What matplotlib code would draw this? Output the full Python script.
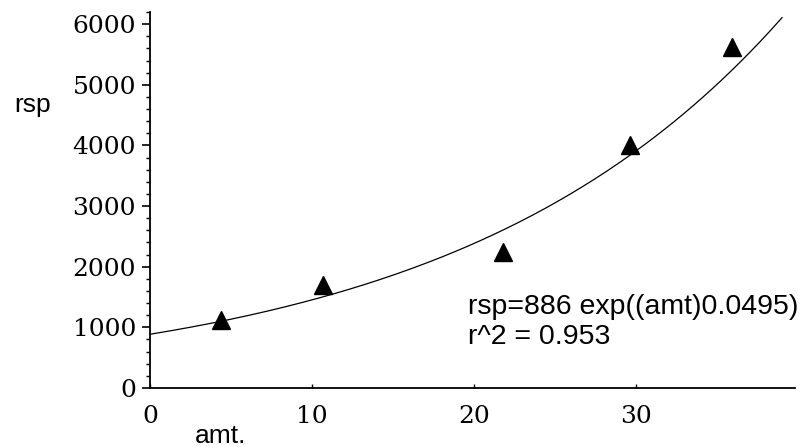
import matplotlib
matplotlib.use("Agg")
import matplotlib.pyplot as plt
import matplotlib.ticker as ticker
import numpy as np

# measured points
amt = [4.4, 10.7, 21.8, 29.6, 35.9]
rsp = [1120, 1700, 2250, 4000, 5620]

# fitted model rsp = a * exp(b * amt), coefficients as printed on the chart
fit_a = 886
fit_b = 0.0495
fit_r2 = 0.953
fit_xmax = 39

fig = plt.figure(figsize=(8.04, 4.47), dpi=100)
ax = fig.add_axes([150 / 804, 59 / 447, 645 / 804, 376 / 447])

xs = np.linspace(0, fit_xmax, 200)
ax.plot(xs, fit_a * np.exp(fit_b * xs), color="k", linewidth=0.9)
ax.plot(amt, rsp, linestyle="none", marker="^", markersize=13, color="k")

ax.set_xlim(0, 39.8)
ax.set_ylim(0, 6200)

ax.spines["top"].set_visible(False)
ax.spines["right"].set_visible(False)
ax.spines["left"].set_linewidth(1.3)
ax.spines["bottom"].set_linewidth(1.3)

ax.xaxis.set_major_locator(ticker.MultipleLocator(10))
ax.yaxis.set_major_locator(ticker.MultipleLocator(1000))
ax.yaxis.set_minor_locator(ticker.MultipleLocator(200))

tick_font = {"family": "DejaVu Serif", "size": 18}
ax.tick_params(axis="y", which="major", direction="out", length=6, width=1.2, pad=4)
ax.tick_params(axis="y", which="minor", direction="out", length=3, width=1.0)
ax.tick_params(axis="x", which="major", direction="in", length=3, width=1.0, pad=12)
for lab in ax.get_xticklabels() + ax.get_yticklabels():
    lab.set_fontfamily(tick_font["family"])
    lab.set_fontsize(tick_font["size"])

sans = "Liberation Sans"
fig.text(14 / 804, 1 - 112 / 447, "rsp", fontsize=19, family=sans, ha="left", va="baseline")
fig.text(195 / 804, 1 - 443 / 447, "amt.", fontsize=19, family=sans, ha="left", va="baseline")

ax.text(19.6, 620, f"rsp={fit_a} exp((amt){fit_b})\nr^2 = {fit_r2}",
        fontsize=20.5, family=sans, ha="left", va="bottom", linespacing=1.2)

fig.savefig("out.png", dpi=100)
